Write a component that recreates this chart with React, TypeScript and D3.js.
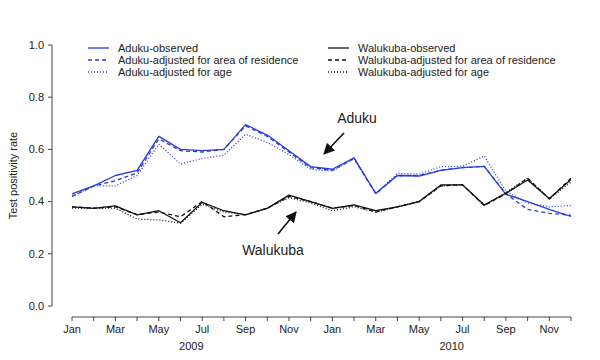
import React from "react";
import * as d3 from "d3";

const months = ["Jan","Feb","Mar","Apr","May","Jun","Jul","Aug","Sep","Oct","Nov","Dec",
  "Jan","Feb","Mar","Apr","May","Jun","Jul","Aug","Sep","Oct","Nov","Dec"];
const years = ["2009", "2010"];
const yTicks = [0, 0.2, 0.4, 0.6, 0.8, 1.0];

const adukuObserved = [0.43,0.46,0.50,0.52,0.65,0.60,0.595,0.60,0.695,0.655,0.595,0.534,
  0.524,0.568,0.432,0.50,0.498,0.52,0.53,0.535,0.428,0.40,0.37,0.343];
const adukuArea = [0.42,0.46,0.48,0.51,0.64,0.595,0.59,0.60,0.69,0.65,0.59,0.53,
  0.52,0.565,0.43,0.50,0.50,0.52,0.53,0.535,0.43,0.37,0.355,0.348];
const adukuAge = [0.42,0.46,0.46,0.50,0.62,0.544,0.565,0.578,0.658,0.627,0.58,0.524,
  0.517,0.565,0.43,0.508,0.505,0.534,0.535,0.575,0.44,0.395,0.38,0.385];
const walukubaObserved = [0.38,0.374,0.384,0.349,0.365,0.319,0.397,0.365,0.349,0.374,0.425,0.40,
  0.374,0.387,0.365,0.38,0.40,0.464,0.464,0.387,0.432,0.483,0.412,0.485];
const walukubaArea = [0.38,0.375,0.38,0.35,0.36,0.342,0.40,0.342,0.35,0.375,0.42,0.40,
  0.375,0.385,0.36,0.38,0.40,0.46,0.465,0.385,0.43,0.49,0.41,0.49];
const walukubaAge = [0.375,0.375,0.375,0.333,0.33,0.317,0.39,0.36,0.35,0.375,0.415,0.395,
  0.365,0.38,0.36,0.38,0.40,0.46,0.465,0.385,0.435,0.49,0.41,0.475];

const BLUE = "#2a3cd8";
const BLACK = "#111";
const FONT = "'Liberation Sans', Arial, Helvetica, sans-serif";

const seriesList = [
  { name: "Aduku-observed", data: adukuObserved, color: BLUE, dash: "none" },
  { name: "Aduku-adjusted for area of residence", data: adukuArea, color: BLUE, dash: "4,3" },
  { name: "Aduku-adjusted for age", data: adukuAge, color: BLUE, dash: "1,2" },
  { name: "Walukuba-observed", data: walukubaObserved, color: BLACK, dash: "none" },
  { name: "Walukuba-adjusted for area of residence", data: walukubaArea, color: BLACK, dash: "4,3" },
  { name: "Walukuba-adjusted for age", data: walukubaAge, color: BLACK, dash: "1,2" },
];

export default function App() {
  const x = d3.scaleLinear().domain([0, 23]).range([72, 571]);
  const y = d3.scaleLinear().domain([0, 1]).range([306, 45]);
  const line = d3.line<number>().x((_, i) => x(i)).y((d) => y(d));
  const axisY = 317;
  const yAxisX = 52;

  return (
    <svg width={600} height={360} style={{ position: "absolute", left: 0, top: 0, background: "#fff" }}
      fontFamily={FONT}>
      {/* Y axis */}
      <line x1={yAxisX} x2={yAxisX} y1={y(0)} y2={y(1)} stroke="#444" strokeWidth={1} />
      {yTicks.map((t) => (
        <g key={t}>
          <line x1={yAxisX - 4} x2={yAxisX} y1={y(t)} y2={y(t)} stroke="#444" />
          <text x={yAxisX - 8} y={y(t)} dy="0.35em" textAnchor="end" fontSize={11} fill="#222">
            {t.toFixed(1)}
          </text>
        </g>
      ))}
      <text transform={`translate(17,${(y(0) + y(1)) / 2}) rotate(-90)`} textAnchor="middle"
        fontSize={11} fill="#222">Test positivity rate</text>

      {/* X axis */}
      <line x1={x(0)} x2={x(23)} y1={axisY} y2={axisY} stroke="#444" />
      {months.map((m, i) => (
        <g key={i}>
          <line x1={x(i)} x2={x(i)} y1={axisY} y2={axisY + 4} stroke="#444" />
          {i % 2 === 0 && (
            <text x={x(i)} y={333} textAnchor="middle" fontSize={11} fill="#222">{m}</text>
          )}
        </g>
      ))}
      {years.map((yr, k) => (
        <text key={yr} x={(x(5 + 12 * k) + x(6 + 12 * k)) / 2} y={350} textAnchor="middle"
          fontSize={11} fill="#222">{yr}</text>
      ))}

      {/* Series */}
      {seriesList.map((s) => (
        <path key={s.name} d={line(s.data) || ""} fill="none" stroke={s.color}
          strokeWidth={1.3} strokeDasharray={s.dash} strokeLinejoin="round" />
      ))}

      {/* Legend */}
      {seriesList.map((s, i) => {
        const col = Math.floor(i / 3);
        const row = i % 3;
        const lx = col === 0 ? 88 : 328;
        const ly = 48 + row * 12;
        return (
          <g key={"leg" + i}>
            <line x1={lx} x2={lx + 21} y1={ly} y2={ly} stroke={s.color} strokeWidth={1.3}
              strokeDasharray={s.dash} />
            <text x={lx + 30} y={ly} dy="0.35em" fontSize={11} fill="#222">{s.name}</text>
          </g>
        );
      })}

      {/* Annotations */}
      <defs>
        <marker id="arrow" viewBox="0 0 10 10" refX="9" refY="5" markerWidth="7" markerHeight="7"
          orient="auto-start-reverse">
          <path d="M0,0 L10,5 L0,10 z" fill="#111" />
        </marker>
      </defs>
      <text x={357} y={123} textAnchor="middle" fontSize={14} fill="#222">Aduku</text>
      <line x1={344} y1={133} x2={324} y2={154} stroke="#111" strokeWidth={1.6} markerEnd="url(#arrow)" />
      <text x={273} y={255} textAnchor="middle" fontSize={14} fill="#222">Walukuba</text>
      <line x1={278} y1={234} x2={296} y2={212} stroke="#111" strokeWidth={1.6} markerEnd="url(#arrow)" />
    </svg>
  );
}
